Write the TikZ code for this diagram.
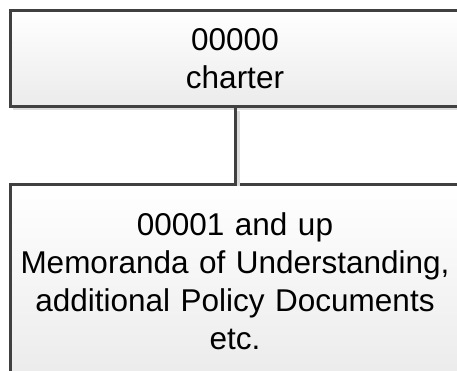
\documentclass[tikz,border=0pt]{standalone}
\usepackage{fontspec}
\setmainfont{Liberation Sans}
\usetikzlibrary{shadows}

\definecolor{boxline}{HTML}{404040}
\definecolor{boxfill}{HTML}{EBEBEB}
\definecolor{boxshade}{HTML}{DCDCDC}

\tikzset{
  docbox/.style={draw=boxline, line width=3pt, top color=white, bottom color=boxfill,
    drop shadow={shadow xshift=3pt, shadow yshift=-3pt, fill=boxshade, opacity=1},
    minimum width=450pt, text width=446pt, align=center, inner sep=0pt,
    font=\fontsize{31.5}{38}\selectfont},
  link/.style={draw=boxline, line width=3pt,
    preaction={draw=boxshade, line width=3pt, transform canvas={shift={(3pt,-3pt)}}}}
}

\begin{document}
\begin{tikzpicture}[x=1pt, y=1pt]
	\useasboundingbox (0,0) rectangle (457,-370);
	\clip (0,0) rectangle (457,-370);
	
	\node[docbox, minimum height=96pt] (charter) at (235,-58.5) {00000\\charter};
	\node[docbox, minimum height=194pt] (memo) at (235,-281) {00001 and up\\Memoranda of Understanding,\\additional Policy Documents\\etc.};
	
	\draw[link] (charter.south) -- (memo.north);
\end{tikzpicture}
\end{document}
